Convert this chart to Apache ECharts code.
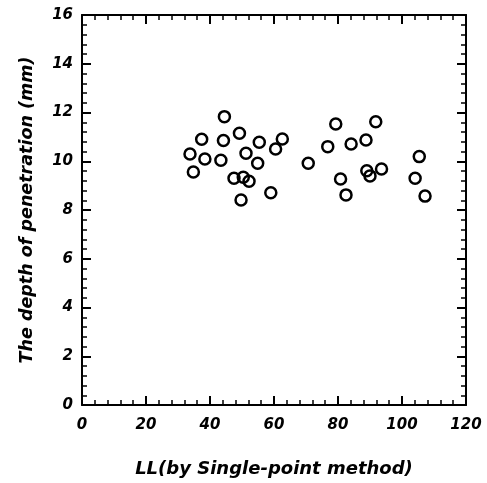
<!DOCTYPE html>
<html>
<head>
<meta charset="utf-8">
<script src="https://cdn.jsdelivr.net/npm/echarts@6/dist/echarts.min.js"></script>
<style>
html, body { margin: 0; padding: 0; background: #fff; }
#myChart { width: 487px; height: 483px; }
</style>
</head>
<body>
<div id="myChart"></div>
<script>
// LL values (by single-point method)
var llValues = [44.5, 37.4, 44.2, 49.2, 55.4, 62.6, 60.5, 33.75, 38.4, 43.4, 51.25,
    54.9, 34.8, 47.5, 50.4, 52.2, 49.7, 59.0, 70.7, 79.3, 76.8,
    91.8, 84.1, 88.75, 105.4, 80.8, 89.0, 90.0, 93.6, 104.1, 82.5, 107.2];
// depth of penetration (mm)
var depthValues = [11.83, 10.9, 10.85, 11.15, 10.78, 10.91, 10.5, 10.3, 10.09, 10.04, 10.33,
    9.92, 9.56, 9.3, 9.34, 9.18, 8.41, 8.71, 9.92, 11.53, 10.6,
    11.62, 10.71, 10.87, 10.19, 9.27, 9.61, 9.4, 9.68, 9.3, 8.62, 8.57];
var xTicks = [0, 20, 40, 60, 80, 100, 120];
var yTicks = [0, 2, 4, 6, 8, 10, 12, 14, 16];

var points = [];
for (var i = 0; i < llValues.length; i++) {
    points.push([llValues[i], depthValues[i]]);
}

var myChart = echarts.init(document.getElementById('myChart'));
var lblFont = { color: '#000', fontFamily: 'DejaVu Sans', fontWeight: 'bold', fontStyle: 'italic', fontSize: 15 };
var titleFont = { color: '#000', fontFamily: 'DejaVu Sans', fontWeight: 'bold', fontStyle: 'italic', fontSize: 18 };

function axisBase(show) {
    return {
        axisLine: { show: true, onZero: false, lineStyle: { color: '#000', width: 2 } },
        axisTick: { show: true, inside: true, length: 9, lineStyle: { color: '#000', width: 2 } },
        minorTick: { show: true, splitNumber: 5, length: 5, lineStyle: { color: '#000', width: 1.5 } },
        splitLine: { show: false },
        axisLabel: show ? lblFont : { show: false }
    };
}

var xBottom = Object.assign(axisBase(true), {
    type: 'value', min: xTicks[0], max: xTicks[xTicks.length - 1], interval: 20, position: 'bottom',
    name: 'LL(by Single-point method)', nameLocation: 'middle', nameGap: 55, nameTextStyle: titleFont
});
xBottom.axisLabel = Object.assign({ margin: 13 }, lblFont);
var xTop = Object.assign(axisBase(false), {
    type: 'value', min: 0, max: 120, interval: 20, position: 'top'
});
var yLeft = Object.assign(axisBase(true), {
    type: 'value', min: yTicks[0], max: yTicks[yTicks.length - 1], interval: 2, position: 'left',
    name: 'The depth of penetration (mm)', nameLocation: 'middle', nameGap: 46,
    nameTextStyle: Object.assign({}, titleFont, { fontSize: 17.5 })
});
yLeft.axisLabel = Object.assign({ margin: 9 }, lblFont);
var yRight = Object.assign(axisBase(false), {
    type: 'value', min: 0, max: 16, interval: 2, position: 'right'
});

var option = {
    animation: false,
    backgroundColor: '#fff',
    grid: { left: 82, right: 21, top: 15, bottom: 78 },
    xAxis: [xBottom, xTop],
    yAxis: [yLeft, yRight],
    series: [{
        type: 'scatter',
        xAxisIndex: 0, yAxisIndex: 0,
        symbol: 'circle', symbolSize: 11,
        itemStyle: { color: 'rgba(255,255,255,0)', borderColor: '#000', borderWidth: 2.5, opacity: 1 },
        data: points
    }]
};
myChart.setOption(option);
</script>
</body>
</html>
